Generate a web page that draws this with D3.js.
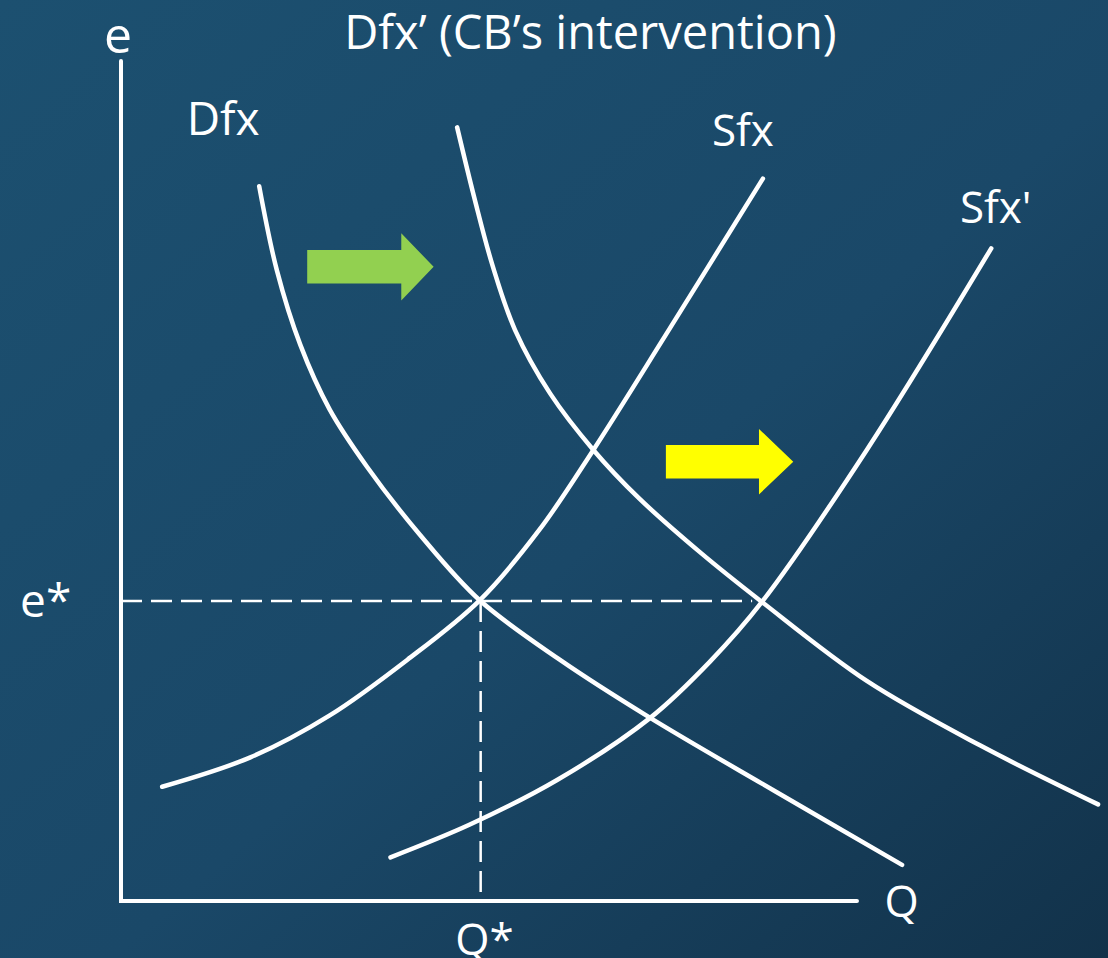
<!DOCTYPE html>
<html>
<head>
<meta charset="utf-8">
<script src="https://cdn.jsdelivr.net/npm/d3@7"></script>
<style>
  html, body { margin: 0; padding: 0; background: #1a4868; }
  text { font-family: "Open Sans", "Noto Sans", sans-serif; fill: #ffffff; }
</style>
</head>
<body>
<div id="chart"></div>
<script>
// curves, as [Q, e] on a 0-100 scale
const dfx = [[14.1, 85.1], [15.9, 75.1], [18.3, 66.2], [21.3, 58.5], [25.1, 51.7], [30.5, 43.6],
             [36.6, 35.8], [44.8, 28.7], [54.0, 21.8], [66.7, 13.1], [79.7, 4.3]];
const dfxNew = [[34.3, 92.1], [36.1, 83.5], [37.9, 75.7], [40.2, 68.0], [43.8, 60.4], [48.2, 53.7],
                [52.9, 47.9], [59.1, 41.5], [65.4, 35.6], [76.1, 26.2], [87.7, 18.5], [99.7, 11.5]];
const sfx = [[4.2, 13.6], [13.2, 17.1], [21.3, 22.1], [29.2, 28.7], [36.6, 35.8], [42.7, 44.2],
             [48.2, 53.7], [55.7, 67.6], [65.5, 86.0]];
const sfxNew = [[27.5, 5.2], [35.6, 9.1], [44.5, 14.4], [54.0, 21.8], [60.1, 28.5], [65.4, 35.6],
                [76.1, 53.7], [88.8, 77.7]];

// equilibrium
const eStar = 35.7;
const qStar = 36.7;
const qNew = 64.4;
const qAxisEnd = 75.1;
const eAxisEnd = 100;

// shift arrows
const arrows = [
  {from: 19.0, head: 28.6, tip: 31.9, e: 75.5, body: 2.0, half: 4.0, color: "#92d050"},
  {from: 55.6, head: 65.1, tip: 68.6, e: 52.3, body: 2.0, half: 3.9, color: "#ffff00"}
];

// labels
const labels = [
  {text: "e", q: -0.3, e: 100.9, anchor: "middle", size: 50},
  {text: "Dfx’ (CB’s intervention)", q: 47.9, e: 101.4, anchor: "middle", size: 47},
  {text: "Dfx", q: 6.7, e: 91.2, anchor: "start", size: 46},
  {text: "Sfx", q: 60.3, e: 89.9, anchor: "start", size: 44},
  {text: "Sfx'", q: 85.6, e: 80.7, anchor: "start", size: 44},
  {text: "e*", q: -10.3, e: 33.8, anchor: "start", size: 46},
  {text: "Q", q: 77.9, e: -1.9, anchor: "start", size: 44},
  {text: "Q*", q: 34.1, e: -6.4, anchor: "start", size: 44}
];

const width = 1108, height = 958;

const svg = d3.select("#chart").append("svg")
    .attr("width", width)
    .attr("height", height);

const defs = svg.append("defs");
const grad = defs.append("linearGradient")
    .attr("id", "bg")
    .attr("x1", "0").attr("y1", "0")
    .attr("x2", "1").attr("y2", "1");
grad.append("stop").attr("offset", "0").attr("stop-color", "#1c5070");
grad.append("stop").attr("offset", "0.55").attr("stop-color", "#1a4868");
grad.append("stop").attr("offset", "1").attr("stop-color", "#12324a");

svg.append("rect")
    .attr("width", width)
    .attr("height", height)
    .attr("fill", "url(#bg)");

const x = d3.scaleLinear().domain([0, 100]).range([121, 1101]);
const y = d3.scaleLinear().domain([0, 100]).range([901, 61]);

// axes
svg.append("path")
    .attr("d", d3.line()([[x(0), y(eAxisEnd)], [x(0), y(0)], [x(qAxisEnd), y(0)]]))
    .attr("fill", "none")
    .attr("stroke", "#fff")
    .attr("stroke-width", 4)
    .attr("stroke-linecap", "round")
    .attr("stroke-linejoin", "miter");

// dashed guides
svg.append("line")
    .attr("x1", x(0)).attr("x2", x(qNew))
    .attr("y1", y(eStar)).attr("y2", y(eStar))
    .attr("stroke", "#fff")
    .attr("stroke-width", 2.5)
    .attr("stroke-dasharray", "21,9");

svg.append("line")
    .attr("x1", x(qStar)).attr("x2", x(qStar))
    .attr("y1", y(eStar)).attr("y2", y(0))
    .attr("stroke", "#fff")
    .attr("stroke-width", 2.5)
    .attr("stroke-dasharray", "21,9");

// curves
const line = d3.line()
    .x(d => x(d[0]))
    .y(d => y(d[1]))
    .curve(d3.curveCatmullRom.alpha(0.5));

svg.selectAll(".curve")
    .data([dfx, dfxNew, sfx, sfxNew])
    .enter().append("path")
    .attr("class", "curve")
    .attr("d", line)
    .attr("fill", "none")
    .attr("stroke", "#fff")
    .attr("stroke-width", 4.5)
    .attr("stroke-linecap", "round");

// arrows
svg.selectAll(".arrow")
    .data(arrows)
    .enter().append("polygon")
    .attr("class", "arrow")
    .attr("points", d => [
        [d.from, d.e + d.body], [d.head, d.e + d.body], [d.head, d.e + d.half],
        [d.tip, d.e], [d.head, d.e - d.half], [d.head, d.e - d.body], [d.from, d.e - d.body]
      ].map(p => [x(p[0]), y(p[1])].join(",")).join(" "))
    .attr("fill", d => d.color);

// labels
svg.selectAll(".label")
    .data(labels)
    .enter().append("text")
    .attr("class", "label")
    .attr("x", d => x(d.q))
    .attr("y", d => y(d.e))
    .attr("text-anchor", d => d.anchor)
    .attr("font-size", d => d.size)
    .text(d => d.text);
</script>
</body>
</html>
